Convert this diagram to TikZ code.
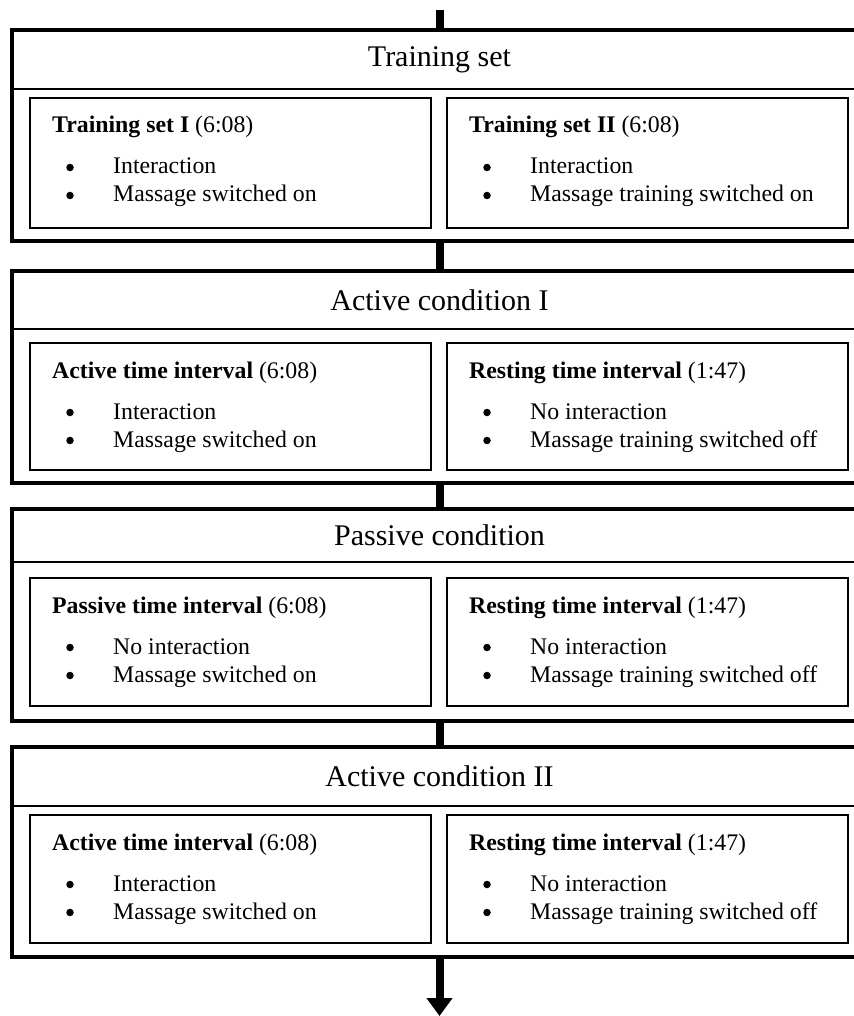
\documentclass[tikz,border=0pt]{standalone}
\usepackage{fontspec}
\setmainfont{Liberation Serif}
\usetikzlibrary{arrows.meta}

\tikzset{
  stage/.style={line width=4pt},
  divider/.style={line width=2pt},
  panel/.style={line width=1.6pt},
  flow/.style={line width=8pt},
  headtext/.style={font=\fontsize{30}{36}\selectfont, inner sep=0pt},
  bodytext/.style={font=\fontsize{23.8}{28}\selectfont, inner sep=0pt, anchor=base west},
  dot/.style={circle, fill=black, inner sep=0pt, minimum size=7.5pt},
}

\begin{document}
\begin{tikzpicture}[x=1pt,y=-1pt]
  \useasboundingbox (0,0) rectangle (853,1016);

  % stages: name/top/header/inner top/inner bottom/bottom/title
  \foreach \name/\top/\hdr/\itop/\ibot/\bot/\title in {
      train/30/89/98/228/241/Training set,
      act1/271/329/343/470/483/Active condition I,
      pass/509/562/578/706/721/Passive condition,
      act2/747/806/815/943/957/Active condition II} {
   \draw[stage] (12,\top) rectangle (867,\bot);
   \draw[divider] (12,\hdr) -- (867,\hdr);
   \node[headtext] (\name-title) at (439.5,{(\top+\hdr)/2}) {\title};
   \coordinate (\name-n) at (439.5,\top);
   \coordinate (\name-s) at (439.5,\bot);
   \draw[panel] (30,\itop) rectangle (431,\ibot);
   \draw[panel] (447,\itop) rectangle (848,\ibot);
  }

  % panels: name/left/inner top/heading/time/first item/second item
  \foreach \name/\x/\itop/\head/\time/\one/\two in {
      train-l/30/98/Training set I/6:08/Interaction/Massage switched on,
      train-r/447/98/Training set II/6:08/Interaction/Massage training switched on,
      act1-l/30/343/Active time interval/6:08/Interaction/Massage switched on,
      act1-r/447/343/Resting time interval/1:47/No interaction/Massage training switched off,
      pass-l/30/578/Passive time interval/6:08/No interaction/Massage switched on,
      pass-r/447/578/Resting time interval/1:47/No interaction/Massage training switched off,
      act2-l/30/815/Active time interval/6:08/Interaction/Massage switched on,
      act2-r/447/815/Resting time interval/1:47/No interaction/Massage training switched off} {
   \node[bodytext] (\name-head) at (\x+22,\itop+35) {\textbf{\head} (\time)};
   \node[dot] (\name-dota) at (\x+40,\itop+69.5) {};
   \node[dot] (\name-dotb) at (\x+40,\itop+97.5) {};
   \node[bodytext] (\name-a) at (\x+83,\itop+76) {\one};
   \node[bodytext] (\name-b) at (\x+83,\itop+104) {\two};
  }

  % flow between stages
  \coordinate (feed) at (439.5,10);
  \coordinate (exit) at (439.5,1016);
  \draw[flow] (feed) -- (train-n);
  \foreach \a/\b in {train/act1, act1/pass, pass/act2} {
   \draw[flow] (\a-s) -- (\b-n);
  }
  \draw[flow, -{Triangle[width=25pt,length=18pt]}] (act2-s) -- (exit);
\end{tikzpicture}
\end{document}
